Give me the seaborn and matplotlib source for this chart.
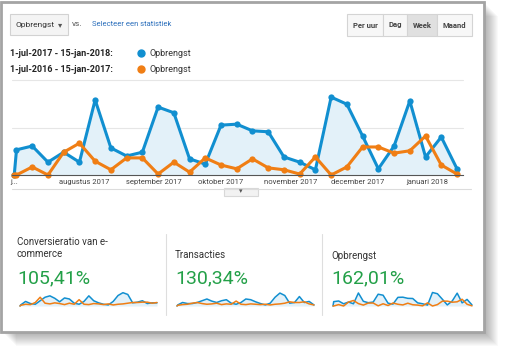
#!/usr/bin/env python3

import pandas as pd
import seaborn as sns
from matplotlib import pyplot as plt
from matplotlib.patches import Rectangle
from matplotlib.lines import Line2D

W, H = 510, 360

# weekly points, the first one is the single day 1-jul
dates = pd.to_datetime(['2017-07-01']).append(
    pd.date_range('2017-07-02', '2018-01-14', freq='7D'))

# Opbrengst (revenue)
rev_2017 = [0, 530, 610, 270, 480, 270, 1580, 570, 400, 480, 1430, 1310,
            340, 230, 1050, 1070, 930, 910, 380, 270, 110, 1640, 1490, 820,
            130, 610, 1560, 380, 800, 130]
rev_2016 = [0, 0, 170, 0, 480, 670, 290, 110, 360, 360, 20, 270, 60, 360,
            210, 130, 340, 150, 110, 20, 380, 0, 170, 590, 590, 460, 510,
            820, 210, 20]

# sparklines (relative heights)
conv_2017 = [0, 3, 13, 7, 5, 15, 25, 29, 22, 12, 23, 20, 8, 5, 13, 29, 15,
             9, 5, 3, 13, 30, 38, 33, 9, 11, 15, 7, 9, 9]
conv_2016 = [0, 2, 5, 4, 10, 25, 8, 6, 9, 7, 4, 8, 5, 18, 5, 4, 7, 6, 4, 6,
             3, 5, 6, 8, 10, 10, 11, 11, 8, 10]
trans_2017 = [0, 3, 10, 7, 7, 10, 15, 20, 14, 10, 15, 18, 8, 5, 10, 20, 18,
              12, 7, 3, 8, 25, 37, 30, 8, 10, 27, 10, 13, 3]
trans_2016 = [0, 2, 4, 5, 8, 10, 7, 5, 6, 8, 4, 6, 5, 14, 5, 4, 6, 5, 4, 5,
              3, 5, 6, 8, 12, 10, 10, 12, 6, 3]

month_ticks = pd.to_datetime(['2017-07-01', '2017-08-01', '2017-09-01',
                              '2017-10-01', '2017-11-01', '2017-12-01',
                              '2018-01-01'])
month_labels = ['j...', 'augustus 2017', 'september 2017', 'oktober 2017',
                'november 2017', 'december 2017', 'januari 2018']

period_labels = ['1-jul-2017 - 15-jan-2018:', '1-jul-2016 - 15-jan-2017:']
metric = 'Opbrengst'
buttons = ['Per uur', 'Dag', 'Week', 'Maand']
cards = ['Conversieratio van e-\ncommerce', 'Transacties', 'Opbrengst']
card_values = ['105,41%', '130,34%', '162,01%']

BLUE = '#118fd0'
ORANGE = '#f07e14'
FILL = '#e3f1f9'
GREEN = '#23a048'


def fx(x):
    return x / W


def fy(y):
    return 1 - y / H


def box(fig, x0, y0, x1, y1, face, edge, lw=0.8, z=1):
    fig.add_artist(Rectangle((fx(x0), fy(y1)), (x1 - x0) / W, (y1 - y0) / H,
                             transform=fig.transFigure, facecolor=face,
                             edgecolor=edge, linewidth=lw, zorder=z))


def txt(fig, x, y, s, **kw):
    fig.text(fx(x), fy(y), s, va='center', **kw)


def spark(fig, x0, x1, y0, y1, s_new, s_old, ymax):
    ax = fig.add_axes([fx(x0), fy(y1), (x1 - x0) / W, (y1 - y0) / H])
    d = pd.DataFrame({'date': dates, 'new': s_new, 'old': s_old})
    ax.fill_between(d['date'], 0, d['new'], color=FILL, lw=0)
    sns.lineplot(data=d, x='date', y='new', color=BLUE, lw=1.1, ax=ax,
                 clip_on=False)
    sns.lineplot(data=d, x='date', y='old', color=ORANGE, lw=1.1, ax=ax,
                 clip_on=False)
    ax.set_xlim(dates[0], dates[-1])
    ax.set_ylim(0, ymax)
    ax.set_axis_off()


sns.set_theme(style='white')
plt.rcParams['font.family'] = ['Roboto', 'DejaVu Sans']

fig = plt.figure(figsize=(5.1, 3.6), dpi=100)
fig.patch.set_facecolor('white')

# card with drop shadow
for k in range(14, 0, -1):
    box(fig, 2 + k, 2 + k, 484 + k, 332 + k, 'black', 'none', lw=0, z=-20)
    fig.artists[-1].set_alpha(0.022)
box(fig, 1.5, 1.5, 484, 332, 'white', '#a4a4a4', lw=2, z=-10)

# header controls
box(fig, 10, 14, 68, 35, '#f4f4f4', '#d2d2d2')
txt(fig, 16, 25, metric, fontsize=6, color='#333')
txt(fig, 58, 25, '\u25be', fontsize=6, color='#555')
txt(fig, 72, 24, 'vs.', fontsize=6, color='#555')
txt(fig, 92, 24, 'Selecteer een statistiek', fontsize=5.5, color='#2a6ebb')

edges = [347, 383, 407, 437, 472]
for i, b in enumerate(buttons):
    face = '#e0e0e0' if b == 'Week' else '#f7f7f7'
    box(fig, edges[i], 14, edges[i + 1], 36, face, '#d4d4d4')
    fig.text(fx((edges[i] + edges[i + 1]) / 2), fy(25), b, ha='center',
             va='center', fontsize=5.5, fontweight='bold', color='#444')

for lab, col, y in zip(period_labels, [BLUE, ORANGE], [53, 69]):
    txt(fig, 10, y, lab, fontsize=6.5, fontweight='bold', color='#222')
    fig.add_artist(Line2D([fx(141)], [fy(y)], marker='o', markersize=5,
                          color=col, transform=fig.transFigure))
    txt(fig, 149, y, metric, fontsize=6.5, color='#333')

# main chart
ax = fig.add_axes([fx(12), fy(175), 451 / W, 95 / H])
df = pd.DataFrame({'date': dates, 'rev_2017': rev_2017,
                   'rev_2016': rev_2016})
ax.fill_between(df['date'], 0, df['rev_2017'], color=FILL, lw=0)
sns.lineplot(data=df, x='date', y='rev_2017', color=BLUE, lw=2.2,
             marker='o', markersize=4.5, markeredgewidth=0, ax=ax,
             clip_on=False)
sns.lineplot(data=df, x='date', y='rev_2016', color=ORANGE, lw=2.2,
             marker='o', markersize=4.5, markeredgewidth=0, ax=ax,
             clip_on=False)
ax.set_xlim(pd.Timestamp('2017-06-30'), pd.Timestamp('2018-01-16 16:00'))
ax.set_ylim(0, 2000)
ax.set_yticks([1000, 2000])
ax.set_yticklabels([])
ax.set_xticks(month_ticks)
ax.set_xticklabels(month_labels, fontsize=5.5, color='#444')
ax.tick_params(axis='both', length=0)
ax.tick_params(axis='x', pad=3)
ax.grid(axis='y', color='#e6e6e6', lw=0.8)
for gl in ax.get_ygridlines():
    gl.set_clip_on(False)
ax.set_xlabel('')
ax.set_ylabel('')
ax.set_facecolor('none')
for s in ['top', 'right', 'left']:
    ax.spines[s].set_visible(False)
ax.spines['bottom'].set_color('#555')
ax.spines['bottom'].set_linewidth(0.8)

fig.add_artist(Line2D([fx(12), fx(471)], [fy(189), fy(189)],
                      transform=fig.transFigure, color='#dcdcdc', lw=0.8))
box(fig, 224, 188, 258, 196, '#f2f2f2', '#d8d8d8')
fig.text(fx(241), fy(192), '\u25be', ha='center', va='center', fontsize=5,
         color='#555')

# scorecards
for x in [166, 322]:
    fig.add_artist(Line2D([fx(x), fx(x)], [fy(234), fy(315)],
                          transform=fig.transFigure, color='#dedede', lw=0.8))

card_x = [17, 175, 331]
title_y = [248, 255, 256]
for x, y, t, v in zip(card_x, title_y, cards, card_values):
    txt(fig, x, y, t, fontsize=7, color='#333', linespacing=1.25)
    txt(fig, x, 278, v, fontsize=14, color=GREEN)

spark(fig, 20, 157, 292, 306, conv_2017, conv_2016, 40)
spark(fig, 177, 314, 292, 306, trans_2017, trans_2016, 40)
spark(fig, 333, 472, 292, 306, rev_2017, rev_2016, 1700)

fig.savefig('out.png', dpi=100)
